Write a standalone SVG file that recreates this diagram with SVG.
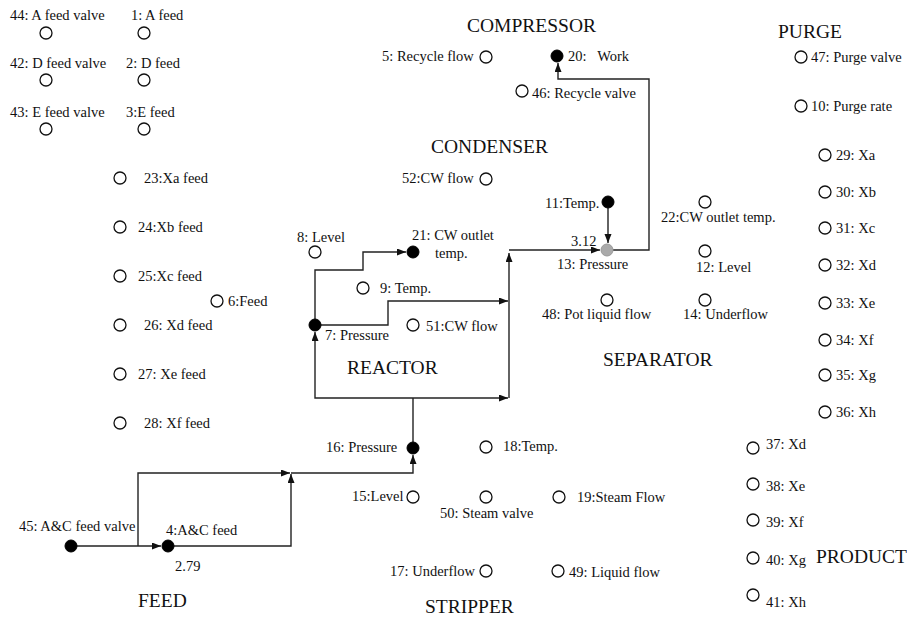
<svg xmlns="http://www.w3.org/2000/svg" width="907" height="618" viewBox="0 0 907 618">
<style>
text{font-family:"Liberation Serif","Times New Roman",serif;font-size:14.5px;fill:#111}
.h{font-size:19.5px}
.o{fill:#fff;stroke:#111;stroke-width:1.3}
.f{fill:#000;stroke:#000;stroke-width:1}
.g{fill:#aaa;stroke:#999;stroke-width:1}
.c{fill:none;stroke:#222;stroke-width:1.4}
.a{marker-end:url(#ah)}
</style>
<defs>
<marker id="ah" markerUnits="userSpaceOnUse" markerWidth="10" markerHeight="8" refX="9" refY="3.5" orient="auto">
<path d="M0,0 L9,3.5 L0,7 z" fill="#111"/>
</marker>
</defs>
<rect width="907" height="618" fill="#fff"/>
<g id="connectors">
<path class="c a" d="M71,546 H161"/>
<path class="c a" d="M138,546 V473 H290"/>
<path class="c a" d="M174,546 H291 V474"/>
<path class="c a" d="M291,473 H413 V455"/>
<path class="c" d="M413,442 V398"/>
<path class="c a" d="M413,398 H315 V332"/>
<path class="c a" d="M413,398 H508"/>
<path class="c a" d="M509,398 V253"/>
<path class="c a" d="M509,250 H600"/>
<path class="c a" d="M608,208 V243"/>
<path class="c a" d="M613,250 H649 V79 H558 V63"/>
<path class="c a" d="M315,319 V270 H363 V252 H406"/>
<path class="c a" d="M321,325 H388 V301 H508"/>
<text x="571" y="246">3.12</text>
<text x="175" y="571">2.79</text>
</g>
<g id="headers">
<text class="h" x="467" y="32">COMPRESSOR</text>
<text class="h" x="431" y="153">CONDENSER</text>
<text class="h" x="347" y="374">REACTOR</text>
<text class="h" x="603" y="366">SEPARATOR</text>
<text class="h" x="778" y="38">PURGE</text>
<text class="h" x="816" y="563">PRODUCT</text>
<text class="h" x="138" y="607">FEED</text>
<text class="h" x="425" y="613">STRIPPER</text>
</g>
<g id="n44"><circle class="o" cx="46" cy="33" r="6"/><text x="10" y="20">44: A feed valve</text></g>
<g id="n1"><circle class="o" cx="144" cy="33" r="6"/><text x="131" y="20">1: A feed</text></g>
<g id="n42"><circle class="o" cx="46" cy="80" r="6"/><text x="10" y="68">42: D feed valve</text></g>
<g id="n2"><circle class="o" cx="144" cy="80" r="6"/><text x="126" y="68">2: D feed</text></g>
<g id="n43"><circle class="o" cx="46" cy="129" r="6"/><text x="10" y="117">43: E feed valve</text></g>
<g id="n3"><circle class="o" cx="144" cy="129" r="6"/><text x="126" y="117">3:E feed</text></g>
<g id="n23"><circle class="o" cx="120" cy="178" r="6"/><text x="144" y="183">23:Xa feed</text></g>
<g id="n24"><circle class="o" cx="120" cy="227" r="6"/><text x="138" y="232">24:Xb feed</text></g>
<g id="n25"><circle class="o" cx="120" cy="276" r="6"/><text x="138" y="281">25:Xc feed</text></g>
<g id="n6"><circle class="o" cx="217" cy="301" r="6"/><text x="228" y="306">6:Feed</text></g>
<g id="n26"><circle class="o" cx="120" cy="325" r="6"/><text x="144" y="330">26: Xd feed</text></g>
<g id="n27"><circle class="o" cx="120" cy="374" r="6"/><text x="138" y="379">27: Xe feed</text></g>
<g id="n28"><circle class="o" cx="120" cy="423" r="6"/><text x="144" y="428">28: Xf feed</text></g>
<g id="n5"><circle class="o" cx="486" cy="57" r="6"/><text x="382" y="61">5: Recycle flow</text></g>
<g id="n20"><circle class="f" cx="557" cy="56" r="6"/><text x="568" y="61" style="white-space:pre">20:   Work</text></g>
<g id="n46"><circle class="o" cx="522" cy="91" r="6"/><text x="532" y="98">46: Recycle valve</text></g>
<g id="n52"><circle class="o" cx="486" cy="179" r="6"/><text x="402" y="183">52:CW flow</text></g>
<g id="n11"><circle class="f" cx="608" cy="202" r="6"/><text x="545" y="208">11:Temp.</text></g>
<g id="n13"><circle class="g" cx="607" cy="250" r="6"/><text x="557" y="269">13: Pressure</text></g>
<g id="n8"><circle class="o" cx="315" cy="252" r="6"/><text x="297" y="242">8: Level</text></g>
<g id="n21"><circle class="f" cx="413" cy="252" r="6"/><text x="412" y="240">21: CW outlet</text><text x="435" y="258">temp.</text></g>
<g id="n9"><circle class="o" cx="363" cy="288" r="6"/><text x="380" y="293">9: Temp.</text></g>
<g id="n7"><circle class="f" cx="315" cy="325" r="6"/><text x="325" y="340">7: Pressure</text></g>
<g id="n51"><circle class="o" cx="413" cy="325" r="6"/><text x="426" y="331">51:CW flow</text></g>
<g id="n22"><circle class="o" cx="705" cy="202" r="6"/><text x="661" y="222">22:CW outlet temp.</text></g>
<g id="n12"><circle class="o" cx="705" cy="251" r="6"/><text x="696" y="272">12: Level</text></g>
<g id="n48"><circle class="o" cx="607" cy="300" r="6"/><text x="542" y="319">48: Pot liquid flow</text></g>
<g id="n14"><circle class="o" cx="705" cy="300" r="6"/><text x="683" y="319">14: Underflow</text></g>
<g id="n16"><circle class="f" cx="413" cy="448" r="6"/><text x="326" y="452">16: Pressure</text></g>
<g id="n18"><circle class="o" cx="486" cy="447" r="6"/><text x="503" y="451">18:Temp.</text></g>
<g id="n15"><circle class="o" cx="413" cy="497" r="6"/><text x="352" y="501">15:Level</text></g>
<g id="n50"><circle class="o" cx="486" cy="497" r="6"/><text x="440" y="518">50: Steam valve</text></g>
<g id="n19"><circle class="o" cx="559" cy="497" r="6"/><text x="577" y="502">19:Steam Flow</text></g>
<g id="n17"><circle class="o" cx="486" cy="571" r="6"/><text x="390" y="576">17: Underflow</text></g>
<g id="n49"><circle class="o" cx="558" cy="571" r="6"/><text x="569" y="577">49: Liquid flow</text></g>
<g id="n45"><circle class="f" cx="71" cy="546" r="6"/><text x="19" y="531">45: A&amp;C feed valve</text></g>
<g id="n4"><circle class="f" cx="168" cy="546" r="6"/><text x="166" y="535">4:A&amp;C feed</text></g>
<g id="n47"><circle class="o" cx="801" cy="57" r="6"/><text x="811" y="62">47: Purge valve</text></g>
<g id="n10"><circle class="o" cx="801" cy="106" r="6"/><text x="811" y="111">10: Purge rate</text></g>
<g id="n29"><circle class="o" cx="825" cy="155" r="6"/><text x="836" y="160">29: Xa</text></g>
<g id="n30"><circle class="o" cx="825" cy="192" r="6"/><text x="836" y="197">30: Xb</text></g>
<g id="n31"><circle class="o" cx="825" cy="228" r="6"/><text x="836" y="233">31: Xc</text></g>
<g id="n32"><circle class="o" cx="825" cy="265" r="6"/><text x="836" y="270">32: Xd</text></g>
<g id="n33"><circle class="o" cx="825" cy="303" r="6"/><text x="836" y="308">33: Xe</text></g>
<g id="n34"><circle class="o" cx="825" cy="340" r="6"/><text x="836" y="345">34: Xf</text></g>
<g id="n35"><circle class="o" cx="825" cy="375" r="6"/><text x="836" y="380">35: Xg</text></g>
<g id="n36"><circle class="o" cx="825" cy="412" r="6"/><text x="836" y="417">36: Xh</text></g>
<g id="n37"><circle class="o" cx="753" cy="448" r="6"/><text x="766" y="449">37: Xd</text></g>
<g id="n38"><circle class="o" cx="753" cy="484" r="6"/><text x="766" y="491">38: Xe</text></g>
<g id="n39"><circle class="o" cx="753" cy="520" r="6"/><text x="766" y="527">39: Xf</text></g>
<g id="n40"><circle class="o" cx="753" cy="558" r="6"/><text x="766" y="565">40: Xg</text></g>
<g id="n41"><circle class="o" cx="753" cy="595" r="6"/><text x="766" y="607">41: Xh</text></g>
</svg>
